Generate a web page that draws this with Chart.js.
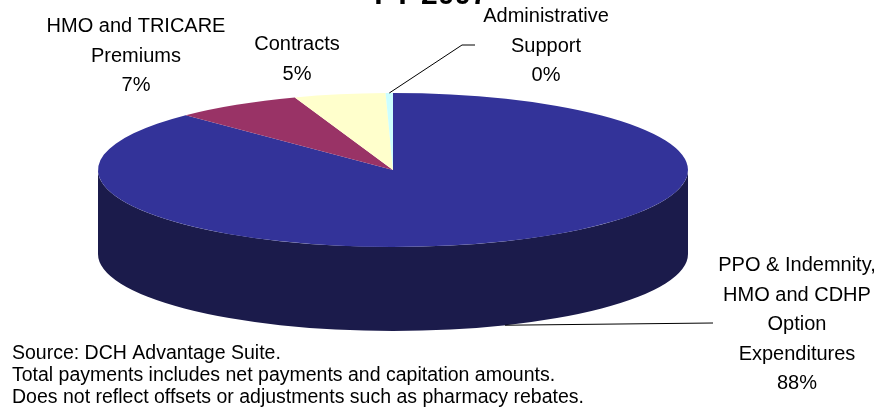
<!DOCTYPE html>
<html>
<head>
<meta charset="utf-8">
<script src="https://cdn.jsdelivr.net/npm/chart.js@4/dist/chart.umd.min.js"></script>
<style>
  body { margin: 0; background: #fff; }
  canvas { display: block; }
</style>
</head>
<body>
<canvas id="myChart" width="894" height="414"></canvas>
<script>
'use strict';
// slices, clockwise from 12 o'clock
const categories = [
  ['PPO & Indemnity,', 'HMO and CDHP', 'Option', 'Expenditures'],
  ['HMO and TRICARE', 'Premiums'],
  ['Contracts'],
  ['Administrative', 'Support']
];
const values = [87.6, 7.0, 5.0, 0.4];
const titleText = 'FY 2007';
const notes = [
  'Source: DCH Advantage Suite.',
  'Total payments includes net payments and capitation amounts.',
  'Does not reflect offsets or adjustments such as pharmacy rebates.'
];

const topColors = ['#333399', '#993366', '#ffffcc', '#ccffff'];
const sideColors = ['#1b1b4b', '#4d1a33', '#80806a', '#668080'];

// layout of the flattened pie and its labels
const PIE = { cx: 393, cy: 170, rx: 295, ry: 77, depth: 84 };
const labelPos = [
  { x: 797, y: 271, line: [713, 323] },
  { x: 136, y: 32 },
  { x: 297, y: 50 },
  { x: 546, y: 22, line: [[475, 45], [462, 45]] }
];
const FONT = '"Liberation Sans", Arial, sans-serif';

const total = values.reduce((a, b) => a + b, 0);

const pie3d = {
  id: 'pie3d',
  beforeDatasetsDraw(chart) {
    const ctx = chart.ctx;
    const meta = chart.getDatasetMeta(0);
    const first = meta.data[0];
    // side wall, only the front half (0..PI) is seen
    ctx.save();
    meta.data.forEach((arc, i) => {
      [0, 2 * Math.PI, -2 * Math.PI].forEach(off => {
        const s = Math.max(arc.startAngle, off);
        const e = Math.min(arc.endAngle, Math.PI + off);
        if (e <= s) return;
        ctx.beginPath();
        ctx.ellipse(PIE.cx, PIE.cy, PIE.rx, PIE.ry, 0, s, e);
        ctx.ellipse(PIE.cx, PIE.cy + PIE.depth, PIE.rx, PIE.ry, 0, e, s, true);
        ctx.closePath();
        ctx.fillStyle = sideColors[i];
        ctx.fill();
      });
    });
    ctx.restore();
    // squash the round pie into the top ellipse
    ctx.save();
    ctx.translate(PIE.cx, PIE.cy);
    ctx.scale(PIE.rx / first.outerRadius, PIE.ry / first.outerRadius);
    ctx.translate(-first.x, -first.y);
  },
  afterDatasetsDraw(chart) {
    chart.ctx.restore();
  },
  afterDraw(chart) {
    const ctx = chart.ctx;
    const meta = chart.getDatasetMeta(0);
    ctx.save();
    ctx.fillStyle = '#000';
    ctx.textBaseline = 'alphabetic';

    // title (mostly cut off at the top)
    ctx.font = 'bold 30px ' + FONT;
    ctx.textAlign = 'center';
    ctx.fillText(titleText, 431, 4);

    // leader lines
    ctx.strokeStyle = '#000';
    ctx.lineWidth = 1;
    meta.data.forEach((arc, i) => {
      const p = labelPos[i];
      if (!p.line) return;
      const mid = (arc.startAngle + arc.endAngle) / 2;
      const onFront = Math.sin(mid) > 0;
      const ax = PIE.cx + PIE.rx * Math.cos(mid);
      const ay = PIE.cy + PIE.ry * Math.sin(mid) + (onFront ? PIE.depth : 0);
      ctx.beginPath();
      ctx.moveTo(ax, ay);
      if (Array.isArray(p.line[0])) {
        for (let k = p.line.length - 1; k >= 0; k--) ctx.lineTo(p.line[k][0], p.line[k][1]);
      } else {
        ctx.lineTo(p.line[0], p.line[1]);
      }
      ctx.stroke();
    });

    // slice labels
    ctx.font = '20px ' + FONT;
    categories.forEach((lines, i) => {
      const p = labelPos[i];
      const pct = Math.round(values[i] / total * 100) + '%';
      lines.concat([pct]).forEach((t, k) => ctx.fillText(t, p.x, p.y + k * 29.5));
    });

    // notes
    ctx.textAlign = 'left';
    ctx.font = '19.5px ' + FONT;
    notes.forEach((t, k) => ctx.fillText(t, 12, 359 + k * 22));
    ctx.restore();
  }
};

const ctx = document.getElementById('myChart').getContext('2d');
const myChart = new Chart(ctx, {
  type: 'pie',
  data: {
    labels: categories,
    datasets: [{
      data: values,
      backgroundColor: topColors,
      borderWidth: 0,
      clip: false
    }]
  },
  options: {
    responsive: false,
    animation: false,
    events: [],
    plugins: {
      legend: { display: false },
      tooltip: { enabled: false }
    }
  },
  plugins: [pie3d]
});
</script>
</body>
</html>
